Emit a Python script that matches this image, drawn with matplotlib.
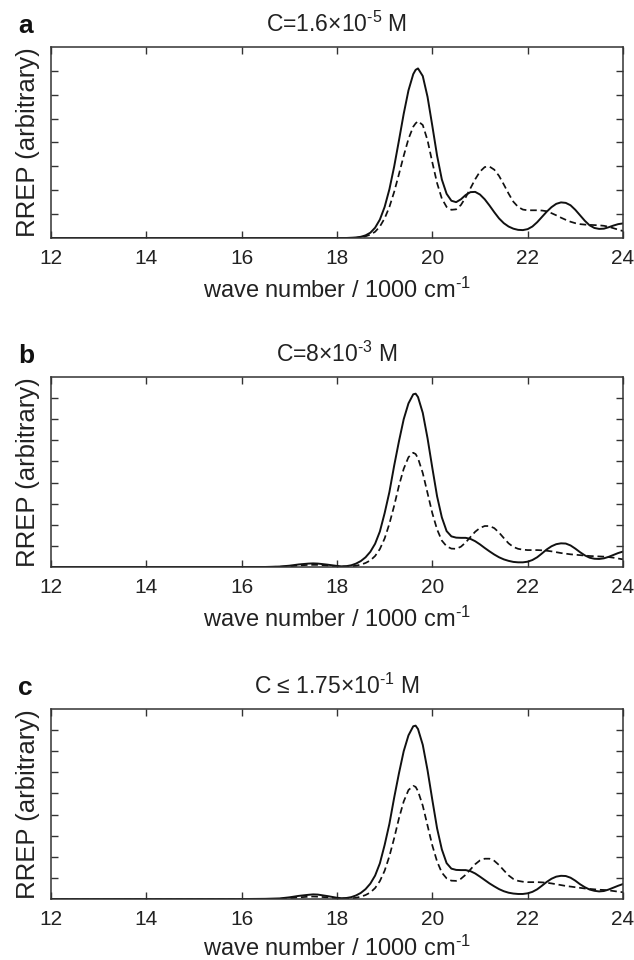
import matplotlib
matplotlib.use("Agg")
import matplotlib.pyplot as plt

plt.rcParams['font.family'] = ['Liberation Sans', 'DejaVu Sans']
plt.rcParams['mathtext.fontset'] = 'custom'
plt.rcParams['mathtext.rm'] = 'Liberation Sans'
plt.rcParams['mathtext.default'] = 'regular'

# wave number grid (1000 cm^-1), shared by all panels
wn = [12.0, 16.0, 16.5, 16.8, 17.0, 17.2, 17.4, 17.5, 17.6, 17.8, 18.0,
      18.1, 18.2, 18.3, 18.4, 18.5, 18.6, 18.7, 18.8, 18.9, 19.0,
      19.1, 19.2, 19.3, 19.4, 19.5, 19.6, 19.65, 19.7, 19.8, 19.9, 20.0,
      20.1, 20.2, 20.3, 20.4, 20.5, 20.6, 20.7, 20.8, 20.9, 21.0,
      21.1, 21.2, 21.3, 21.4, 21.5, 21.6, 21.7, 21.8, 21.9, 22.0,
      22.1, 22.2, 22.3, 22.4, 22.5, 22.6, 22.7, 22.8, 22.9, 23.0,
      23.1, 23.2, 23.3, 23.4, 23.5, 23.6, 23.7, 23.8, 23.9, 24.0]

# panel a: C = 1.6e-5 M
solid_a = [0, 0, 0, 0, 0, 0, 0, 0, 0, 0, 0,
           0, 0, 0.01, 0.02, 0.05, 0.11, 0.22, 0.43, 0.77, 1.30,
           2.04, 2.99, 4.08, 5.20, 6.18, 6.86, 7.04, 7.10, 6.78, 5.91, 4.70,
           3.45, 2.45, 1.85, 1.56, 1.50, 1.62, 1.80, 1.92, 1.93, 1.82,
           1.62, 1.36, 1.08, 0.82, 0.62, 0.48, 0.39, 0.34, 0.33, 0.37,
           0.48, 0.66, 0.88, 1.10, 1.29, 1.43, 1.49, 1.47, 1.37, 1.18,
           0.95, 0.72, 0.53, 0.42, 0.38, 0.39, 0.45, 0.52, 0.58, 0.61]
dashed_a = [0, 0, 0, 0, 0, 0, 0, 0, 0, 0, 0,
            0, 0, 0, 0.01, 0.03, 0.07, 0.14, 0.26, 0.48, 0.82,
            1.30, 1.93, 2.67, 3.44, 4.15, 4.66, 4.80, 4.89, 4.73, 4.09, 3.17,
            2.30, 1.65, 1.30, 1.18, 1.20, 1.38, 1.70, 2.08, 2.46, 2.78,
            2.97, 2.99, 2.86, 2.60, 2.24, 1.86, 1.52, 1.30, 1.19, 1.16,
            1.16, 1.16, 1.15, 1.12, 1.04, 0.95, 0.85, 0.76, 0.68, 0.62,
            0.58, 0.56, 0.55, 0.54, 0.53, 0.51, 0.47, 0.41, 0.35, 0.29]

# panel b: C = 8e-3 M
solid_b = [0, 0, 0, 0.02, 0.06, 0.12, 0.16, 0.17, 0.16, 0.11, 0.05,
           0.03, 0.04, 0.08, 0.16, 0.28, 0.46, 0.72, 1.10, 1.68, 2.55,
           3.55, 4.80, 5.95, 7.00, 7.75, 8.18, 8.21, 8.05, 7.30, 6.10, 4.70,
           3.35, 2.35, 1.70, 1.45, 1.39, 1.38, 1.38, 1.33, 1.22, 1.07,
           0.90, 0.74, 0.59, 0.46, 0.36, 0.29, 0.24, 0.22, 0.22, 0.25,
           0.33, 0.46, 0.64, 0.83, 0.98, 1.08, 1.12, 1.11, 1.02, 0.87,
           0.70, 0.55, 0.44, 0.39, 0.38, 0.41, 0.48, 0.57, 0.66, 0.73]
dashed_b = [0, 0, 0, 0.01, 0.03, 0.07, 0.10, 0.10, 0.10, 0.07, 0.03,
            0.02, 0.02, 0.03, 0.06, 0.11, 0.19, 0.31, 0.52, 0.85, 1.35,
            2.05, 2.90, 3.85, 4.65, 5.20, 5.41, 5.35, 5.15, 4.45, 3.50, 2.55,
            1.78, 1.25, 0.98, 0.87, 0.86, 0.96, 1.16, 1.42, 1.67, 1.85,
            1.94, 1.94, 1.84, 1.63, 1.37, 1.12, 0.95, 0.86, 0.82, 0.80,
            0.80, 0.80, 0.79, 0.77, 0.74, 0.70, 0.66, 0.63, 0.60, 0.58,
            0.56, 0.54, 0.52, 0.51, 0.50, 0.49, 0.47, 0.44, 0.40, 0.36]

# panel c: C <= 1.75e-1 M
solid_c = [0, 0, 0.01, 0.03, 0.08, 0.15, 0.20, 0.22, 0.21, 0.14, 0.06,
           0.04, 0.05, 0.09, 0.17, 0.29, 0.47, 0.73, 1.11, 1.69, 2.56,
           3.56, 4.80, 5.95, 7.00, 7.75, 8.18, 8.21, 8.05, 7.30, 6.10, 4.70,
           3.35, 2.35, 1.70, 1.44, 1.38, 1.37, 1.37, 1.32, 1.21, 1.06,
           0.90, 0.74, 0.60, 0.47, 0.37, 0.30, 0.26, 0.24, 0.24, 0.27,
           0.34, 0.46, 0.63, 0.81, 0.96, 1.06, 1.10, 1.09, 1.01, 0.87,
           0.70, 0.56, 0.45, 0.39, 0.36, 0.38, 0.45, 0.54, 0.63, 0.71]
dashed_c = [0, 0, 0, 0.01, 0.04, 0.08, 0.11, 0.12, 0.11, 0.08, 0.04,
            0.02, 0.02, 0.03, 0.06, 0.11, 0.19, 0.31, 0.52, 0.85, 1.34,
            2.03, 2.88, 3.82, 4.62, 5.16, 5.36, 5.31, 5.11, 4.42, 3.48, 2.54,
            1.78, 1.25, 0.98, 0.87, 0.86, 0.96, 1.15, 1.40, 1.65, 1.83,
            1.91, 1.91, 1.81, 1.61, 1.36, 1.12, 0.95, 0.86, 0.82, 0.80,
            0.80, 0.80, 0.79, 0.77, 0.74, 0.70, 0.66, 0.62, 0.59, 0.56,
            0.53, 0.50, 0.48, 0.46, 0.44, 0.43, 0.41, 0.38, 0.35, 0.32]

titles = [r'C=1.6$\times$10$^{\text{-}5}$ M',
          r'C=8$\times$10$^{\text{-}3}$ M',
          'C \u2264 1.75$\\times$10$^{\\text{-}1}$ M']
letters = ['a', 'b', 'c']
ymax = [8, 9, 9]
xlabel_pad = [7, 7, 5]
xticks = [12, 14, 16, 18, 20, 22, 24]

# axes boxes in figure fractions (left, bottom, width, height)
boxes = [[0.0804, 0.7521, 0.9022, 0.1990],
         [0.0804, 0.4094, 0.9022, 0.1979],
         [0.0804, 0.0635, 0.9022, 0.1980]]

fig = plt.figure(figsize=(6.34, 9.6), dpi=100)
series = [(solid_a, dashed_a), (solid_b, dashed_b), (solid_c, dashed_c)]

for i, (solid, dashed) in enumerate(series):
    ax = fig.add_axes(boxes[i])
    ax.plot(wn, solid, color='#111111', lw=1.4, solid_capstyle='round')
    ax.plot(wn, dashed, color='#111111', lw=1.25, linestyle=(0, (3.8, 2.2)))
    ax.set_xlim(12, 24)
    ax.set_ylim(0, ymax[i])
    ax.set_xticks(xticks)
    ax.set_yticks(range(1, ymax[i]))
    ax.tick_params(axis='both', direction='in', top=True, right=True,
                   length=5, width=1.0, color='#333333', labelsize=15,
                   labelleft=False, pad=8, labelcolor='#222222')
    for sp in ax.spines.values():
        sp.set_linewidth(1.1)
        sp.set_color('#333333')
    ax.set_xlabel('wave number / 1000 cm$^{\\text{-}1}$', fontsize=17,
                  labelpad=xlabel_pad[i], color='#222222')
    ax.set_ylabel('RREP (arbitrary)', fontsize=18.5, labelpad=8,
                  color='#222222')
    ax.annotate(titles[i], xy=(0.5, 1), xycoords='axes fraction',
                xytext=(0, 11), textcoords='offset points',
                ha='center', va='baseline', fontsize=16.5, color='#222222')
    ax.annotate(letters[i], xy=(0, 1), xycoords='axes fraction',
                xytext=(-23.8, 10), textcoords='offset points',
                ha='left', va='baseline', fontsize=19, fontweight='bold',
                color='#111111')

fig.savefig('out.png', dpi=100)
